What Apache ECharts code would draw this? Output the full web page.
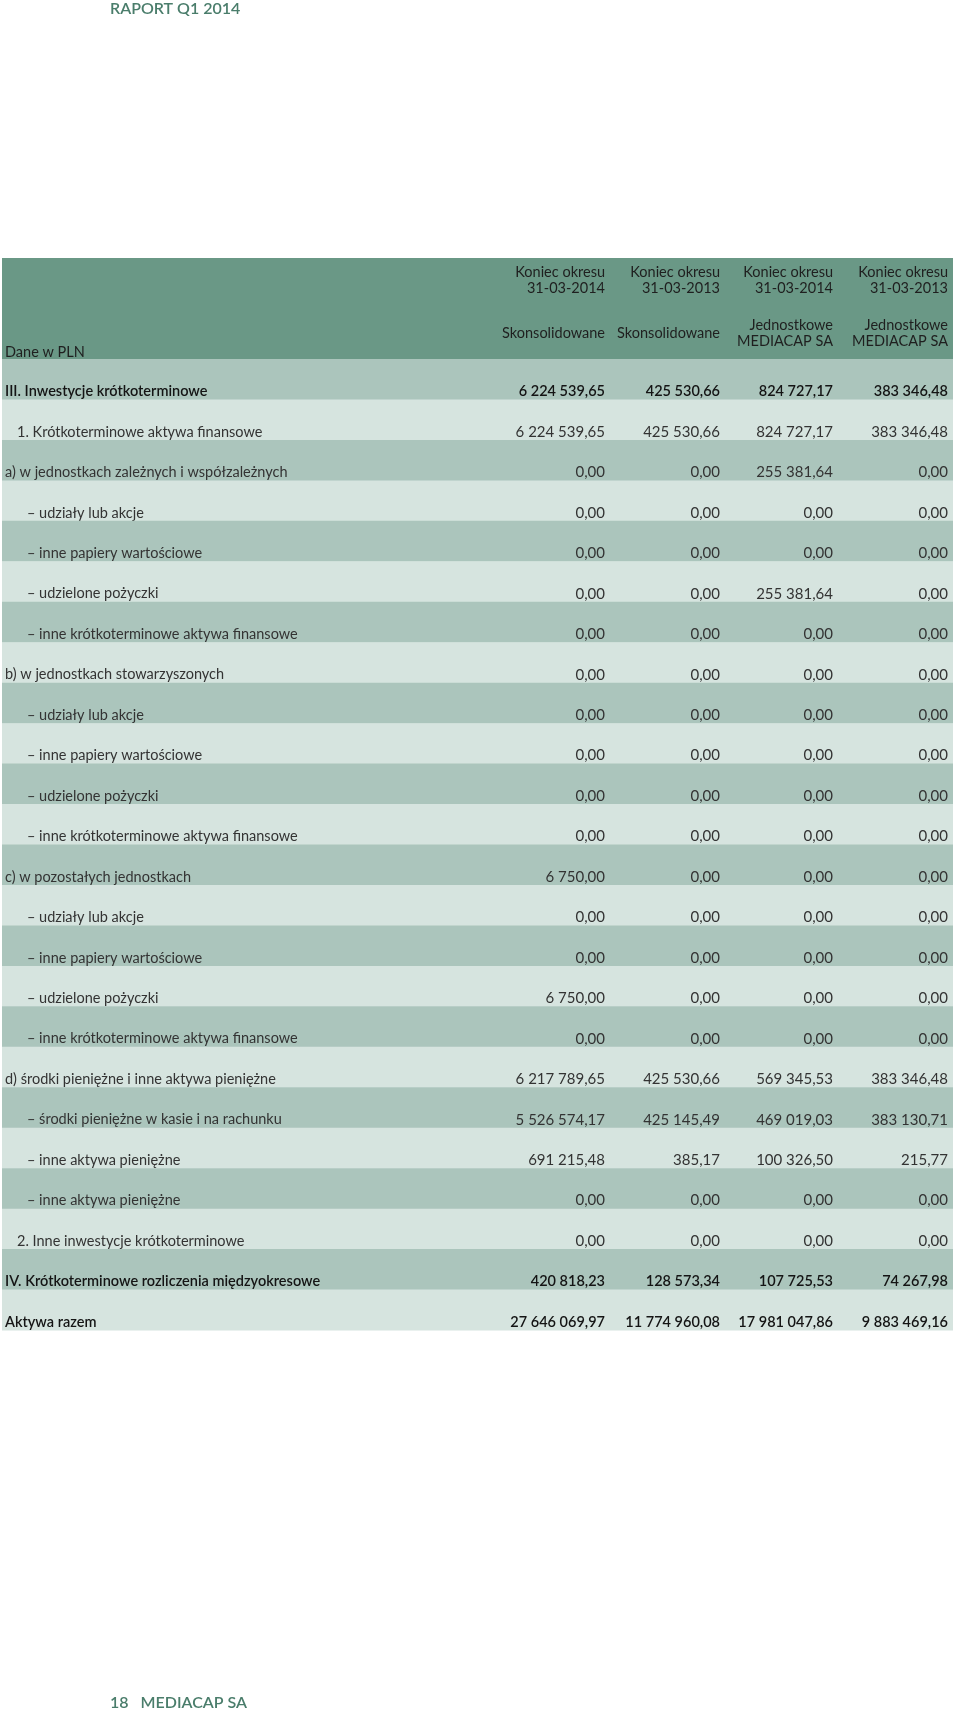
<!DOCTYPE html>
<html><head><meta charset="utf-8">
<script src="https://cdn.jsdelivr.net/npm/echarts@6/dist/echarts.min.js"></script>
<style>html,body{margin:0;padding:0;background:#fff}#c{width:960px;height:1713px}</style>
</head><body><div id="c"></div>
<script>
// ---- data ----
const rowLabels = [
  "III. Inwestycje krótkoterminowe",
  "1. Krótkoterminowe aktywa finansowe",
  "a) w jednostkach zależnych i współzależnych",
  "– udziały lub akcje",
  "– inne papiery wartościowe",
  "– udzielone pożyczki",
  "– inne krótkoterminowe aktywa finansowe",
  "b) w jednostkach stowarzyszonych",
  "– udziały lub akcje",
  "– inne papiery wartościowe",
  "– udzielone pożyczki",
  "– inne krótkoterminowe aktywa finansowe",
  "c) w pozostałych jednostkach",
  "– udziały lub akcje",
  "– inne papiery wartościowe",
  "– udzielone pożyczki",
  "– inne krótkoterminowe aktywa finansowe",
  "d) środki pieniężne i inne aktywa pieniężne",
  "– środki pieniężne w kasie i na rachunku",
  "– inne aktywa pieniężne",
  "– inne aktywa pieniężne",
  "2. Inne inwestycje krótkoterminowe",
  "IV. Krótkoterminowe rozliczenia międzyokresowe",
  "Aktywa razem"
];
const rowLevel = [0,1,0,2,2,2,2,0,2,2,2,2,0,2,2,2,2,0,2,2,2,1,0,0];
const rowStrong = [1,0,0,0,0,0,0,0,0,0,0,0,0,0,0,0,0,0,0,0,0,0,1,1];
const consolidated2014 = [6224539.65,6224539.65,0,0,0,0,0,0,0,0,0,0,6750,0,0,6750,0,6217789.65,5526574.17,691215.48,0,0,420818.23,27646069.97];
const consolidated2013 = [425530.66,425530.66,0,0,0,0,0,0,0,0,0,0,0,0,0,0,0,425530.66,425145.49,385.17,0,0,128573.34,11774960.08];
const separate2014 = [824727.17,824727.17,255381.64,0,0,255381.64,0,0,0,0,0,0,0,0,0,0,0,569345.53,469019.03,100326.50,0,0,107725.53,17981047.86];
const separate2013 = [383346.48,383346.48,0,0,0,0,0,0,0,0,0,0,0,0,0,0,0,383346.48,383130.71,215.77,0,0,74267.98,9883469.16];
const headerTop = ["Koniec okresu\n31-03-2014","Koniec okresu\n31-03-2013","Koniec okresu\n31-03-2014","Koniec okresu\n31-03-2013"];
const headerBottom = ["Skonsolidowane","Skonsolidowane","Jednostkowe\nMEDIACAP SA","Jednostkowe\nMEDIACAP SA"];
const unitLabel = "Dane w PLN";
const pageTitle = "RAPORT Q1 2014";
const pageFooter = "18   MEDIACAP SA";

// ---- helpers ----
function fmt(v){
  const s = v.toFixed(2);
  let [i,d] = s.split('.');
  i = i.replace(/\B(?=(\d{3})+(?!\d))/g,' ');
  return i + ',' + d;
}
const cols = [consolidated2014, consolidated2013, separate2014, separate2013];
const colRight = [603, 718, 831, 946]; // x-axis units (pixels from grid left)
const indent = [3, 15, 25];
const FONT = 'Lato, "Noto Sans", sans-serif';
const C_HEAD = '#6a9886', C_MID = '#abc5bc', C_LIGHT = '#d6e4df', C_GREEN = '#4a7d6b';

const chart = echarts.init(document.getElementById('c'), null, {renderer:'canvas'});
const gridLeft = 2, gridTop = 359, gridRight = 7, gridBottom = 1713 - 1330;

const headerGraphics = [
  {type:'rect', shape:{x:2,y:258,width:951,height:101}, style:{fill:C_HEAD}},
  {type:'text', style:{text:unitLabel, x:5, y:352, font:'14.5px '+FONT, fill:'#1f1f1f', textVerticalAlign:'middle'}}
];
headerTop.forEach((t,k)=>{
  headerGraphics.push({type:'text', style:{text:t, x:gridLeft+colRight[k], y:280, font:'14.5px '+FONT, fill:'#1f1f1f', textAlign:'right', textVerticalAlign:'middle', lineHeight:16}});
  headerGraphics.push({type:'text', style:{text:headerBottom[k], x:gridLeft+colRight[k], y:333, font:'14.5px '+FONT, fill:'#1f1f1f', textAlign:'right', textVerticalAlign:'middle', lineHeight:16}});
});
headerGraphics.push({type:'text', style:{text:pageTitle, x:110, y:9, font:'600 16px '+FONT, fill:C_GREEN, textVerticalAlign:'middle'}});
headerGraphics.push({type:'text', style:{text:pageFooter, x:110, y:1703, font:'600 16px '+FONT, fill:C_GREEN, textVerticalAlign:'middle'}});

chart.setOption({
  animation:false,
  grid:{left:gridLeft, right:gridRight, top:gridTop, bottom:gridBottom},
  xAxis:{type:'value', min:0, max:951, show:false},
  yAxis:{type:'category', data:rowLabels.map((_,i)=>i), inverse:true, show:false},
  graphic:headerGraphics,
  series:[{
    type:'custom',
    data: rowLabels.map((_,i)=>[0,i]),
    encode:{x:0,y:1},
    renderItem:function(params, api){
      const i = api.value(1);
      const p = api.coord([0,i]);
      const h = api.size([0,1])[1];
      const w = api.size([951,0])[0];
      const top = p[1]-h/2, bottom = p[1]+h/2;
      const ty = bottom - 8;
      const strong = rowStrong[i];
      const labelFont = (strong ? '600 ' : '') + '14.5px ' + FONT;
      const numFont = (strong ? '600 14.5px ' : '15px ') + FONT;
      const fill = strong ? '#141414' : '#333';
      const children = [
        {type:'rect', shape:{x:p[0], y:top, width:w, height:h+0.5}, style:{fill: i%2===0 ? C_MID : C_LIGHT}},
        {type:'text', style:{text:rowLabels[i], x:api.coord([indent[rowLevel[i]],i])[0], y:ty, font:labelFont, fill:fill, textVerticalAlign:'middle'}}
      ];
      cols.forEach((arr,k)=>{
        children.push({type:'text', style:{text:fmt(arr[i]), x:api.coord([colRight[k],i])[0], y:ty, font:numFont, fill:fill, textAlign:'right', textVerticalAlign:'middle'}});
      });
      return {type:'group', children:children};
    }
  }]
});
</script></body></html>
